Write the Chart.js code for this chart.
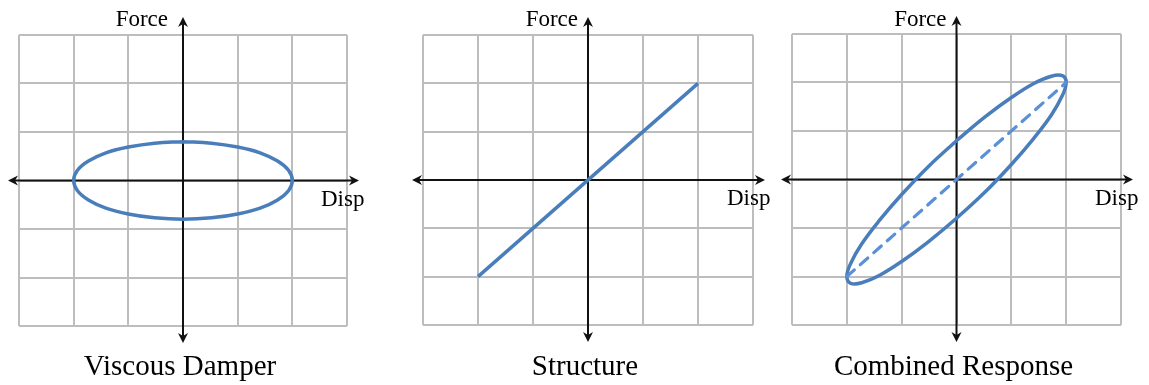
<!DOCTYPE html>
<html><head><meta charset="utf-8">
<script src="https://cdn.jsdelivr.net/npm/chart.js@4"></script>
<style>
html,body{margin:0;padding:0;background:#fff;}
body{width:1149px;height:385px;position:relative;overflow:hidden;}
.p{position:absolute;top:0;height:385px;}
</style></head><body>
<div class="p" style="left:0;width:385px"><canvas id="c1"></canvas></div>
<div class="p" style="left:390px;width:385px"><canvas id="c2"></canvas></div>
<div class="p" style="left:770px;width:379px"><canvas id="c3"></canvas></div>
<script>
// ---- data ----
const panelTitles = ['Viscous Damper', 'Structure', 'Combined Response'];
const axisLabelX = 'Disp';
const axisLabelY = 'Force';
const gridTicks = [-3, -2, -1, 0, 1, 2, 3];

const damperDisp  = [0, 0.52, 1.0, 1.41, 1.73, 1.93, 2.0, 1.93, 1.73, 1.41, 1.0, 0.52, 0, -0.52, -1.0, -1.41, -1.73, -1.93, -2.0, -1.93, -1.73, -1.41, -1.0, -0.52, 0];
const damperForce = [0.8, 0.77, 0.69, 0.57, 0.4, 0.21, 0, -0.21, -0.4, -0.57, -0.69, -0.77, -0.8, -0.77, -0.69, -0.57, -0.4, -0.21, 0, 0.21, 0.4, 0.57, 0.69, 0.77, 0.8];

const structDisp  = [-2, 2];
const structForce = [-2, 2];

const combDisp  = [0, 0.52, 1.0, 1.41, 1.73, 1.93, 2.0, 1.93, 1.73, 1.41, 1.0, 0.52, 0, -0.52, -1.0, -1.41, -1.73, -1.93, -2.0, -1.93, -1.73, -1.41, -1.0, -0.52, 0];
const combForce = [0.8, 1.29, 1.69, 1.98, 2.13, 2.14, 2.0, 1.73, 1.33, 0.85, 0.31, -0.26, -0.8, -1.29, -1.69, -1.98, -2.13, -2.14, -2.0, -1.73, -1.33, -0.85, -0.31, 0.26, 0.8];

// ---- helpers ----
const pts = (xs, ys) => xs.map((v, i) => ({x: v, y: ys[i]}));
const SOLID = '#4A7EBB';
const DASHED = '#5B8FD6';
const GRID = '#bdbdbd';
const SERIF = '"Liberation Serif", "Times New Roman", serif';

function head(ctx, x, y, ang) {
  ctx.save(); ctx.translate(x, y); ctx.rotate(ang);
  ctx.beginPath();
  ctx.moveTo(0, 0); ctx.lineTo(-10, -5); ctx.lineTo(-7, 0); ctx.lineTo(-10, 5);
  ctx.closePath(); ctx.fill();
  ctx.restore();
}

const axisPlugin = {
  id: 'axisArrows',
  beforeDatasetsDraw(chart, args, opts) {
    const {ctx, chartArea: a, scales: {x, y}} = chart;
    const ox = x.getPixelForValue(0), oy = y.getPixelForValue(0);
    const x0 = a.left - opts.ext[0], x1 = a.right + opts.ext[1];
    const y0 = a.top - opts.ext[2], y1 = a.bottom + opts.ext[3];
    ctx.save();
    ctx.strokeStyle = '#111'; ctx.fillStyle = '#111'; ctx.lineWidth = 2;
    ctx.beginPath();
    ctx.moveTo(x0 + 5, oy); ctx.lineTo(x1 - 5, oy);
    ctx.moveTo(ox, y0 + 5); ctx.lineTo(ox, y1 - 5);
    ctx.stroke();
    head(ctx, x1, oy, 0); head(ctx, x0, oy, Math.PI);
    head(ctx, ox, y0, -Math.PI / 2); head(ctx, ox, y1, Math.PI / 2);
    ctx.restore();
  },
  afterDraw(chart, args, opts) {
    const {ctx, chartArea: a, scales: {x, y}} = chart;
    const ox = x.getPixelForValue(0), oy = y.getPixelForValue(0);
    ctx.save();
    ctx.fillStyle = '#000';
    ctx.textBaseline = 'alphabetic';
    ctx.font = '23px ' + SERIF;
    ctx.textAlign = 'right';
    ctx.fillText(axisLabelY, ox - opts.forceGap, 26);
    ctx.textAlign = 'left';
    ctx.fillText(axisLabelX, a.right - opts.dispBack, oy + 25);
    ctx.font = '29px ' + SERIF;
    ctx.textAlign = 'center';
    ctx.fillText(opts.title, ox - 3, 375);
    ctx.restore();
  }
};

function scaleOpts() {
  return {
    type: 'linear', min: gridTicks[0], max: gridTicks[gridTicks.length - 1],
    afterBuildTicks: (s) => { s.ticks = gridTicks.map(v => ({value: v})); },
    ticks: {display: false},
    grid: {color: GRID, lineWidth: 2, drawTicks: false},
    border: {display: false}
  };
}

function makeChart(id, datasets, pad, title, forceGap) {
  return new Chart(document.getElementById(id), {
    type: 'scatter',
    data: {datasets},
    options: {
      responsive: true, maintainAspectRatio: false, animation: false,
      devicePixelRatio: 1,
      layout: {padding: pad},
      scales: {x: scaleOpts(), y: scaleOpts()},
      plugins: {
        legend: {display: false}, tooltip: {enabled: false},
        axisArrows: {ext: [11, 12, 18, 17], title, forceGap, dispBack: 26}
      }
    },
    plugins: [axisPlugin]
  });
}

const lineDs = (data, extra) => Object.assign({
  data, showLine: true, pointRadius: 0, borderColor: SOLID, borderWidth: 3.5,
  tension: 0.4, fill: false, clip: false
}, extra || {});

makeChart('c1', [lineDs(pts(damperDisp, damperForce))],
  {left: 19, right: 38, top: 35, bottom: 59}, panelTitles[0], 15);
makeChart('c2', [lineDs(pts(structDisp, structForce), {tension: 0})],
  {left: 33, right: 22, top: 35, bottom: 60}, panelTitles[1], 10);
makeChart('c3', [
  lineDs(pts(structDisp, structForce), {tension: 0, borderColor: DASHED, borderDash: [10, 8], borderCapStyle: 'round', borderWidth: 3.2}),
  lineDs(pts(combDisp, combForce))
], {left: 22, right: 28, top: 34, bottom: 60}, panelTitles[2], 10);
</script>
</body></html>
